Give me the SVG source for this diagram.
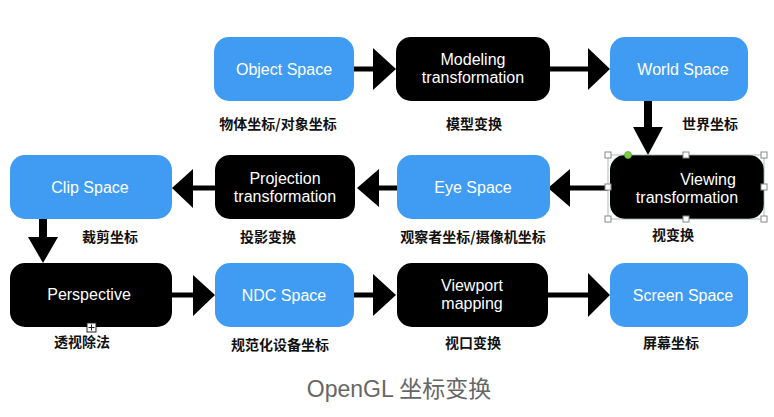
<svg xmlns="http://www.w3.org/2000/svg" width="774" height="417" viewBox="0 0 774 417">
<style>
.blue{fill:#3f9cf2}
.black{fill:#000}
.t{font-family:"Liberation Sans",Arial,sans-serif;font-size:16px;fill:#fff;text-anchor:middle}
.cn{font-family:"Noto Sans CJK SC","Noto Sans",sans-serif;font-size:14px;font-weight:bold;fill:#111;text-anchor:middle}
.ln{stroke:#000;stroke-width:5;fill:none}
.vln{stroke:#000;stroke-width:8;fill:none}
.hd{fill:#000}
.h{fill:#fff;stroke:#888;stroke-width:1}
</style>
<rect width="774" height="417" fill="#fff"/>
<g id="connectors">
  <line class="ln" x1="354" y1="69" x2="375" y2="69"/><polygon class="hd" points="373,48 396,69 373,90"/>
  <line class="ln" x1="550" y1="69" x2="590" y2="69"/><polygon class="hd" points="588,48 610,69 588,90"/>
  <line class="vln" x1="648" y1="101" x2="648" y2="129"/><polygon class="hd" points="633,127 663,127 648,155"/>
  <line class="ln" x1="608" y1="188" x2="568" y2="188"/><polygon class="hd" points="570,169 548,188 570,207"/>
  <line class="ln" x1="397" y1="188" x2="377" y2="188"/><polygon class="hd" points="379,169 357,188 379,207"/>
  <line class="ln" x1="215" y1="188" x2="191" y2="188"/><polygon class="hd" points="193,169 172,188 193,208"/>
  <line class="vln" x1="43" y1="219" x2="43" y2="239"/><polygon class="hd" points="28,237 58,237 43,263"/>
  <line class="ln" x1="172" y1="295" x2="195" y2="295"/><polygon class="hd" points="193,275 215,295 193,316"/>
  <line class="ln" x1="354" y1="295" x2="375" y2="295"/><polygon class="hd" points="373,274 396,295 373,316"/>
  <line class="ln" x1="548" y1="295" x2="590" y2="295"/><polygon class="hd" points="588,273 610,295 588,317"/>
</g>
<g id="object-space"><rect class="blue" x="214" y="37" width="140" height="64" rx="15"/><text class="t" x="284" y="75">Object Space</text><text class="cn" x="278" y="129">物体坐标/对象坐标</text></g>
<g id="modeling"><rect class="black" x="396" y="37" width="154" height="64" rx="15"/><text class="t" x="473" y="65">Modeling</text><text class="t" x="473" y="83">transformation</text><text class="cn" x="474" y="129">模型变换</text></g>
<g id="world-space"><rect class="blue" x="610" y="37" width="138" height="64" rx="15"/><text class="t" x="683" y="75">World Space</text><text class="cn" x="710" y="129">世界坐标</text></g>
<g id="viewing"><rect class="black" x="610" y="155" width="154" height="64" rx="15"/><text class="t" x="708" y="185">Viewing</text><text class="t" x="687" y="203">transformation</text><text class="cn" x="673" y="240">视变换</text>
  <rect x="608" y="155" width="156" height="64" fill="none" stroke="#9aa" stroke-width="0.8"/>
  <rect class="h" x="605" y="152" width="6" height="6"/><rect class="h" x="683" y="152" width="6" height="6"/><rect class="h" x="761" y="152" width="6" height="6"/>
  <rect class="h" x="605" y="184" width="6" height="6"/><rect class="h" x="761" y="184" width="6" height="6"/>
  <rect class="h" x="605" y="216" width="6" height="6"/><rect class="h" x="683" y="216" width="6" height="6"/><rect class="h" x="761" y="216" width="6" height="6"/>
  <circle cx="628" cy="155" r="3.5" fill="#7dcf4a" stroke="#5aa830" stroke-width="0.8"/>
</g>
<g id="eye-space"><rect class="blue" x="397" y="155" width="153" height="64" rx="15"/><text class="t" x="473" y="193">Eye Space</text><text class="cn" x="473" y="242">观察者坐标/摄像机坐标</text></g>
<g id="projection"><rect class="black" x="215" y="155" width="140" height="64" rx="15"/><text class="t" x="285" y="184">Projection</text><text class="t" x="285" y="202">transformation</text><text class="cn" x="268" y="242">投影变换</text></g>
<g id="clip-space"><rect class="blue" x="10" y="155" width="162" height="64" rx="15"/><text class="t" x="90" y="193">Clip Space</text><text class="cn" x="110" y="242">裁剪坐标</text></g>
<g id="perspective"><rect class="black" x="10" y="263" width="162" height="64" rx="15"/><text class="t" x="89" y="300">Perspective</text><text class="cn" x="82" y="347">透视除法</text>
  <rect x="87" y="323" width="9" height="9" fill="#fff" stroke="#222" stroke-width="1"/><path d="M88.5 327.5h6M91.5 324.5v6" stroke="#222" stroke-width="1"/>
</g>
<g id="ndc-space"><rect class="blue" x="215" y="263" width="139" height="64" rx="15"/><text class="t" x="284" y="301">NDC Space</text><text class="cn" x="280" y="350">规范化设备坐标</text></g>
<g id="viewport"><rect class="black" x="397" y="263" width="151" height="64" rx="15"/><text class="t" x="472" y="291">Viewport</text><text class="t" x="472" y="309">mapping</text><text class="cn" x="473" y="348">视口变换</text></g>
<g id="screen-space"><rect class="blue" x="610" y="263" width="138" height="64" rx="15"/><text class="t" x="683" y="301">Screen Space</text><text class="cn" x="671" y="348">屏幕坐标</text></g>
<text x="399" y="397" font-family="'Liberation Sans','Noto Sans CJK SC',sans-serif" font-size="23" fill="#666" text-anchor="middle">OpenGL 坐标变换</text>
</svg>
